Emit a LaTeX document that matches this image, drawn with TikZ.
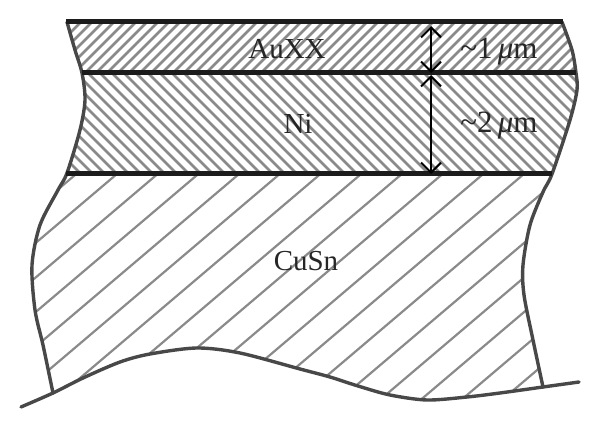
\documentclass[tikz,border=0pt]{standalone}
\usepackage{fontspec}
\setmainfont{Liberation Serif}
\usetikzlibrary{arrows.meta}
\definecolor{edgegray}{HTML}{484848}
\definecolor{hatchgray}{HTML}{8A8A8A}
\definecolor{bandblack}{HTML}{1C1C1C}
\tikzset{
  edgeline/.style={edgegray,line width=3.4pt,line cap=round},
  bandline/.style={bandblack,line width=5pt},
  finehatch/.style={hatchgray,line width=2.5pt},
  widehatch/.style={hatchgray,line width=2.2pt},
  dimarrow/.style={black,line width=2pt,{Straight Barb[length=10pt,width=20pt,line width=2pt]}-{Straight Barb[length=10pt,width=20pt,line width=2pt]}},
  label/.style={font=\fontsize{29}{34}\selectfont,inner sep=0pt,text=black!85},
  dimlabel/.style={font=\fontsize{31}{36}\selectfont,inner sep=0pt,text=black!85}
}
\newcommand{\leftedge}{(67,22) (75,50) (82,73) (85,100) (80,130) (67,173) (58,190) (40,225) (32,265) (35,310) (43,345) (53,393)}
\newcommand{\bottomedge}{(21,407) (53,393) (83,378) (120,362) (150,354) (197,348) (240,353) (300,369) (330,377) (358,386) (390,395) (427,400) (467,397) (500,393) (543,387) (579,382)}
\newcommand{\rightedge}{(562,22) (572,50) (576,73) (577,90) (570,120) (552,174) (543,192) (530,225) (523,265) (524,295) (533,340) (543,387)}
\begin{document}
\begin{tikzpicture}[x=1pt,y=-1pt]
\useasboundingbox (0,0) rectangle (600,430);
\coordinate (topL) at (66,22);
\coordinate (topR) at (563,22);
\coordinate (midL) at (82,73);
\coordinate (midR) at (576,73);
\coordinate (lowL) at (66,174);
\coordinate (lowR) at (552,174);
\coordinate (arrA) at (431,26);
\coordinate (arrB) at (431,73);
\coordinate (arrC) at (431,75);
\coordinate (arrD) at (431,174);
% AuXX hatching
\begin{scope}
\clip plot[smooth] coordinates {\leftedge} -- (82,73) -- (576,73) -- plot[smooth] coordinates {(576,73) (572,50) (562,22)} -- cycle;
\clip (0,22) rectangle (600,73);
\foreach \k in {0,...,50} \draw[finehatch] ({30+11*\k},73) -- ({81+11*\k},22);
\end{scope}
% Ni hatching
\begin{scope}
\clip plot[smooth] coordinates {(82,73) (85,100) (80,130) (67,173)} -- (552,174) -- plot[smooth] coordinates {(552,174) (570,120) (577,90) (576,73)} -- cycle;
\foreach \k in {0,...,50} \draw[finehatch] ({-20+12*\k},73) -- ({81+12*\k},174);
\end{scope}
% CuSn hatching
\begin{scope}
\clip plot[smooth] coordinates {(67,173) (58,190) (40,225) (32,265) (35,310) (43,345) (53,393)} -- plot[smooth] coordinates {(53,393) (83,378) (120,362) (150,354) (197,348) (240,353) (300,369) (330,377) (358,386) (390,395) (427,400) (467,397) (500,393) (543,387)} -- plot[smooth] coordinates {(543,387) (533,340) (524,295) (523,265) (530,225) (543,192) (552,174)} -- cycle;
\foreach \k in {-8,...,14} \draw[widehatch] ({73.3+40.7*\k+125},174) -- ({73.3+40.7*\k-153},410);
\end{scope}
% outlines
\draw[edgeline] plot[smooth] coordinates {\leftedge};
\draw[edgeline] plot[smooth] coordinates {\rightedge};
\draw[edgeline] plot[smooth] coordinates {\bottomedge};
\draw[bandline] (topL) -- (topR);
\draw[bandline] (midL) -- (midR);
\draw[bandline] (lowL) -- (lowR);
\draw[dimarrow] (arrA) -- (arrB);
\draw[dimarrow] (arrC) -- (arrD);
\node[label] (au) at (287,49) {AuXX};
\node[label] (ni) at (298,124) {Ni};
\node[label] (cu) at (306,261) {CuSn};
\node[dimlabel] (one) at (499,52) {\textasciitilde 1\,\textit{μ}m};
\node[dimlabel] (two) at (499,126) {\textasciitilde 2\,\textit{μ}m};
\end{tikzpicture}
\end{document}
